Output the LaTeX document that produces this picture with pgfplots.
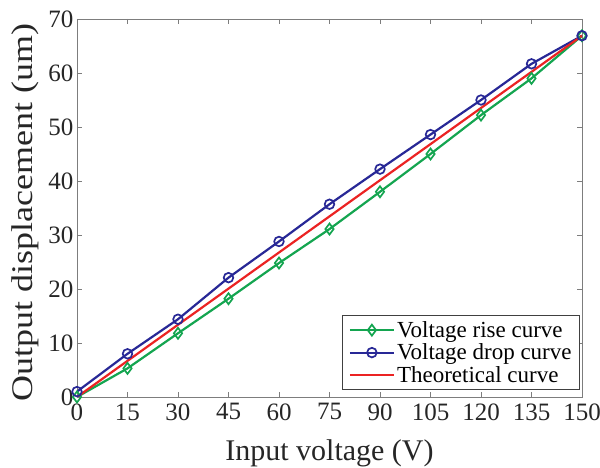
\documentclass[border=0pt]{standalone}
\usepackage{fontspec}
\setmainfont{Liberation Serif}
\usepackage{pgfplots}
\pgfplotsset{compat=1.18}
\definecolor{cgreen}{RGB}{20,165,80}
\definecolor{cblue}{RGB}{40,40,150}
\definecolor{cred}{RGB}{235,35,35}
\definecolor{axgray}{RGB}{125,125,125}
\begin{document}
\begin{tikzpicture}
\begin{axis}[
  scale only axis, width=505pt, height=378pt,
  xmin=0, xmax=150, ymin=0, ymax=70,
  xtick={0,15,...,150}, ytick={0,10,...,70},
  tick align=inside, major tick length=5pt,
  axis line style={axgray, line width=0.8pt},
  tick style={axgray, line width=0.8pt},
  ticklabel style={font=\fontsize{25}{25}\selectfont, text=black!85},
  xticklabel style={yshift=-3pt},
  /pgf/number format/assume math mode=true,
  xlabel={Input voltage (V)}, ylabel={\scalebox{1.2}[1]{Output displacement (um)}},
  label style={font=\fontsize{30}{30}\selectfont, text=black!85},
  xlabel style={at={(axis description cs:0.5,-0.169)}, anchor=base},
  ylabel style={at={(axis description cs:-0.089,0.488)}, anchor=base},
  legend cell align=left,
  legend style={at={(0.996,0.018)}, anchor=south east,
    font=\fontsize{23}{24}\selectfont, draw=black!75, line width=0.8pt,
    inner xsep=6pt, inner ysep=4pt, row sep=1pt},
  legend image code/.code={\draw[mark repeat=2,mark phase=2,#1] plot coordinates {(0pt,0pt) (22pt,0pt) (44pt,0pt)};},
]
\addplot[cgreen, line width=2.2pt, mark=diamond, mark size=5.5pt, mark options={line width=1.7pt}]
coordinates {(0,0) (15,5.3) (30,11.8) (45,18.2) (60,24.8) (75,31.1) (90,38.0) (105,45.0) (120,52.2) (135,59.0) (150,66.9)};
\addlegendentry{Voltage rise curve}
\addplot[cblue, line width=2.2pt, mark=o, mark size=4.8pt, mark options={line width=1.7pt}]
coordinates {(0,1.0) (15,8.0) (30,14.4) (45,22.1) (60,28.8) (75,35.7) (90,42.2) (105,48.6) (120,55.0) (135,61.7) (150,66.9)};
\addlegendentry{Voltage drop curve}
\addplot[cred, line width=2.2pt]
coordinates {(0,0) (15,6.69) (30,13.38) (45,20.07) (60,26.76) (75,33.45) (90,40.14) (105,46.83) (120,53.52) (135,60.21) (150,66.9)};
\addlegendentry{Theoretical curve}
\end{axis}
\pgfresetboundingbox
\path[use as bounding box] (-77pt,-71pt) rectangle (523pt,397pt);
\end{tikzpicture}
\end{document}
